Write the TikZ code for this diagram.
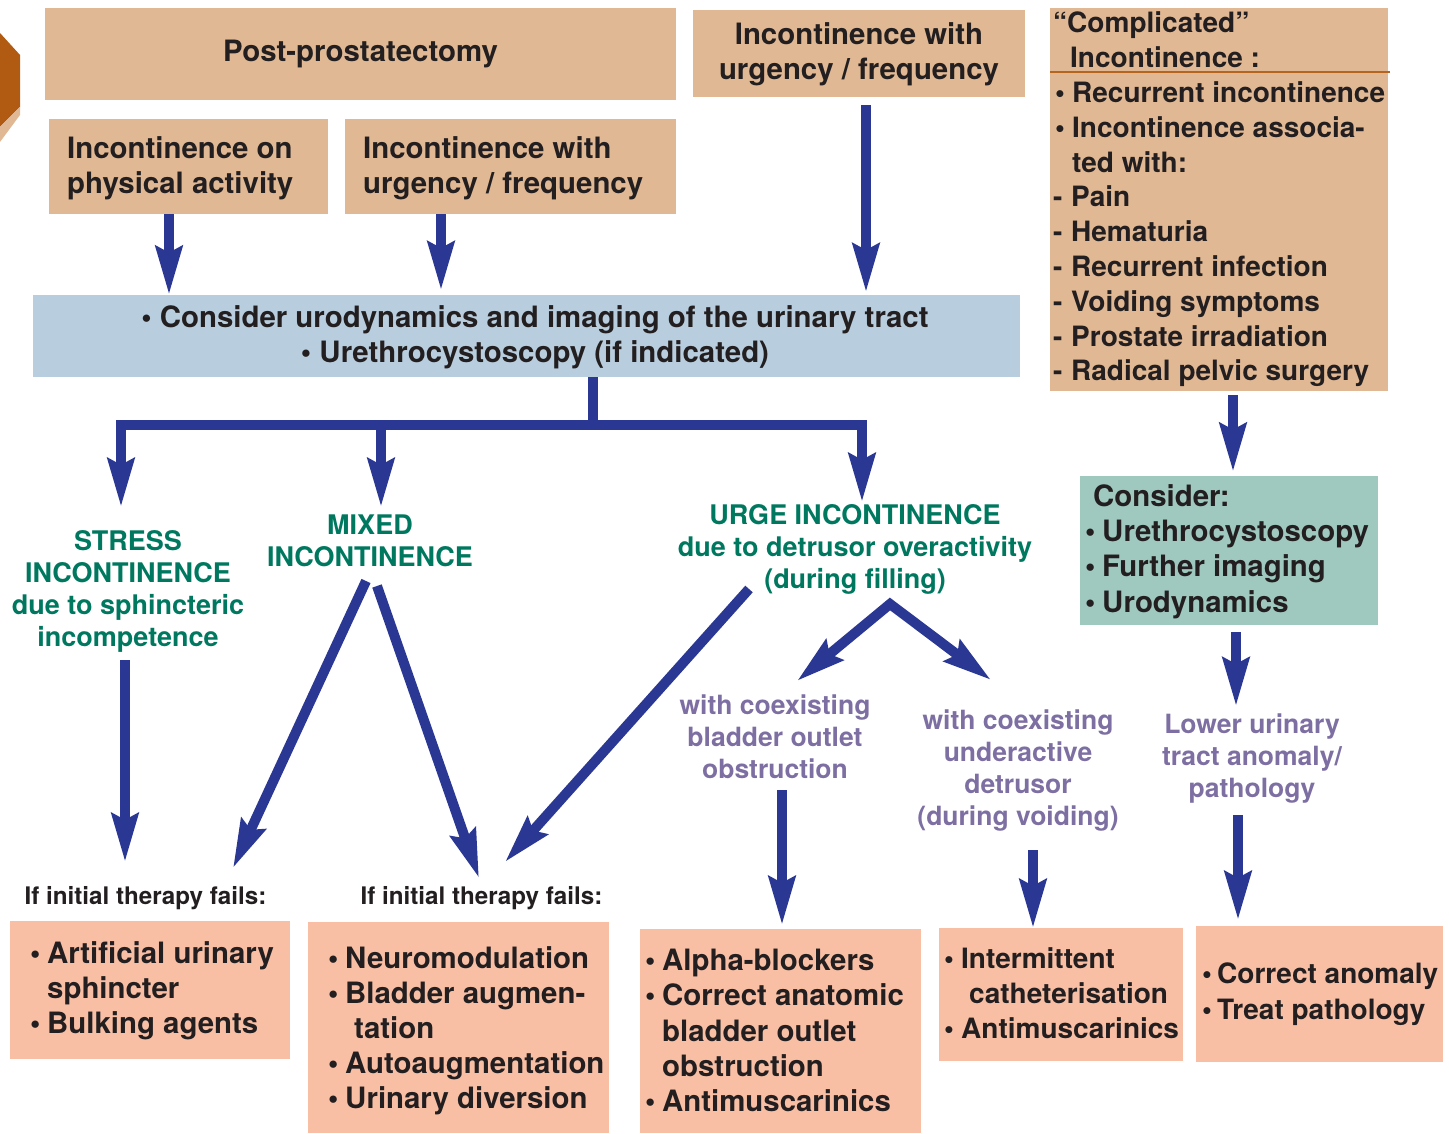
\documentclass[tikz,border=0pt]{standalone}
\usepackage{fontspec}
\setmainfont{TeX Gyre Heros}
\usetikzlibrary{arrows.meta}
\definecolor{cTan}{HTML}{E0B894}
\definecolor{cBlueBox}{HTML}{B8CDDD}
\definecolor{cTeal}{HTML}{9FC8BF}
\definecolor{cSalmon}{HTML}{F8BFA5}
\definecolor{cArrow}{HTML}{2A3894}
\definecolor{cGreen}{HTML}{00785F}
\definecolor{cPurple}{HTML}{7E6FA3}
\definecolor{cText}{HTML}{231F20}
\definecolor{cBrown}{HTML}{B05A12}
\definecolor{cRule}{HTML}{B5651D}
\newcommand\mb{\makebox[17pt][l]{•}}
\newcommand\md{\makebox[18pt][l]{-}}
\newcommand\myind[1]{\hspace*{#1pt}}
\tikzset{
  myhead/.tip={Stealth[length=48pt,width=26pt,inset=6pt]},
  boxbase/.style={inner sep=0pt, draw=none},
  tanbox/.style={boxbase, fill=cTan},
  bluebox/.style={boxbase, fill=cBlueBox},
  tealbox/.style={boxbase, fill=cTeal},
  salbox/.style={boxbase, fill=cSalmon},
  main/.style={font=\fontsize{29.4}{35}\selectfont\bfseries, text=cText, inner sep=0pt},
  mainl/.style={main, align=left, anchor=west},
  mainc/.style={main, align=center},
  smalll/.style={font=\fontsize{28}{35}\selectfont\bfseries, text=cText, inner sep=0pt, align=left, anchor=west},
  compl/.style={font=\fontsize{28}{34.8}\selectfont\bfseries, text=cText, inner sep=0pt, align=left, anchor=west},
  greenlbl/.style={font=\fontsize{27}{32}\selectfont\bfseries, text=cGreen, align=center, inner sep=0pt},
  purplbl/.style={font=\fontsize{26.5}{32}\selectfont\bfseries, text=cPurple, align=center, inner sep=0pt},
  fails/.style={font=\fontsize{24.2}{29}\selectfont\bfseries, text=cText, inner sep=0pt},
  shaft/.style={draw=cArrow, line width=10pt, line join=miter},
  arr/.style={shaft, -myhead},
  darr/.style={shaft, myhead-myhead},
}
\begin{document}
\begin{tikzpicture}[x=1pt,y=-1pt]
\useasboundingbox (0,0) rectangle (1449,1134);
% corner ornament
\fill[cBrown] (0,33) -- (20,55) -- (20,107) -- (0,127) -- cycle;
\fill[cTan] (0,127) -- (20,107) -- (20,115) -- (0,142) -- cycle;

% top boxes
\node[tanbox, minimum width=631pt, minimum height=92pt] (post) at (360.5,54) {};
\node[mainc] (post-t) at (360.5,54) {Post-prostatectomy};

\node[tanbox, minimum width=332pt, minimum height=87pt] (urgT) at (859,53.5) {};
\node[mainc] (urgT-t) at (859,54) {Incontinence with\\urgency / frequency};

\node[tanbox, minimum width=279pt, minimum height=95pt] (phys) at (188.5,166.5) {};
\node[mainl] (phys-t) at (67,168) {Incontinence on\\physical activity};

\node[tanbox, minimum width=331pt, minimum height=95pt] (urgL) at (510.5,166.5) {};
\node[mainl] (urgL-t) at (363,168) {Incontinence with\\urgency / frequency};

\node[tanbox, minimum width=338pt, minimum height=383pt] (comp) at (1219,199.5) {};
\node[compl] (comp-t) at (1053,199.5) {“Complicated”\\\myind{17}Incontinence :\\\myind{2}\mb Recurrent incontinence\\\myind{2}\mb Incontinence associa-\\\myind{19}ted with:\\\md Pain\\\md Hematuria\\\md Recurrent infection\\\md Voiding symptoms\\\md Prostate irradiation\\\md Radical pelvic surgery};
\draw[cRule, line width=2pt] (1050,72) -- (1390,72);

% blue box
\node[bluebox, minimum width=987pt, minimum height=82pt] (blue) at (526.5,336) {};
\node[mainc] (blue-t) at (535,337) {• Consider urodynamics and imaging of the urinary tract\\• Urethrocystoscopy (if indicated)};

% teal box
\node[tealbox, minimum width=298pt, minimum height=149pt] (teal) at (1229,550.5) {};
\node[mainl, font=\fontsize{29.4}{35.3}\selectfont\bfseries] (teal-t) at (1085,551.5) {\myind{8}Consider:\\\mb Urethrocystoscopy\\\mb Further imaging\\\mb Urodynamics};

% category labels
\node[greenlbl] (stress) at (128,591.5) {STRESS\\INCONTINENCE\\due to sphincteric\\incompetence};
\node[greenlbl] (mixed) at (370,540.5) {MIXED\\INCONTINENCE};
\node[greenlbl] (urge) at (855,549.5) {URGE INCONTINENCE\\due to detrusor overactivity\\(during filling)};
\node[purplbl] (bo) at (775,736.5) {with coexisting\\bladder outlet\\obstruction};
\node[purplbl] (ud) at (1018,771) {with coexisting\\underactive\\detrusor\\(during voiding)};
\node[purplbl] (lu) at (1252,759) {Lower urinary\\tract anomaly/\\pathology};
\node[fails] (f1) at (145.5,898) {If initial therapy fails:};
\node[fails] (f2) at (481.5,898) {If initial therapy fails:};

% bottom boxes
\node[salbox, minimum width=280pt, minimum height=138pt] (sa) at (150,990) {};
\node[mainl] (sa-t) at (30,991) {\mb Artificial urinary\\\myind{17}sphincter\\\mb Bulking agents};
\node[salbox, minimum width=301pt, minimum height=211pt] (sb) at (458.5,1027.5) {};
\node[mainl] (sb-t) at (328,1031) {\mb Neuromodulation\\\mb Bladder augmen-\\\myind{26}tation\\\mb Autoaugmentation\\\mb Urinary diversion};
\node[salbox, minimum width=281pt, minimum height=204pt] (sc) at (780.5,1031) {};
\node[mainl, font=\fontsize{29.4}{35.2}\selectfont\bfseries] (sc-t) at (645,1030.5) {\mb Alpha-blockers\\\mb Correct anatomic\\\myind{17}bladder outlet\\\myind{17}obstruction\\\mb Antimuscarinics};
\node[salbox, minimum width=244pt, minimum height=133pt] (sd) at (1061,994.5) {};
\node[smalll] (sd-t) at (944,993) {\mb Intermittent\\\myind{25}catheterisation\\\mb Antimuscarinics};
\node[salbox, minimum width=247pt, minimum height=136pt] (se) at (1319.5,994) {};
\node[smalll, font=\fontsize{28}{36}\selectfont\bfseries] (se-t) at (1202,994.5) {\makebox[15pt][l]{•}Correct anomaly\\\makebox[15pt][l]{•}Treat pathology};

% connectors
\draw[arr] ([xshift=-19.5pt]phys.south) -- ([xshift=-19.5pt]phys.south |- blue.north);
\draw[arr] ([xshift=-69.5pt]urgL.south) -- ++(0,76);
\draw[arr] ([xshift=7pt,yshift=-8pt]urgT.south) -- ++(0,187);

\coordinate (bar) at (593,425);
\coordinate (t1) at (121,507);
\coordinate (t2) at (381,507);
\coordinate (t3) at (862,502);
\draw[shaft] ([xshift=66.5pt]blue.south) -- (593,430);
\draw[arr] (bar) -| (t1);
\draw[arr] (bar) -| (t3);
\draw[arr] (t2 |- bar) -- (t2);

\coordinate (s0) at (125,660);
\coordinate (s1) at (125,862);
\draw[arr] (s0) -- (s1);
\coordinate (m0) at (366,581);
\coordinate (m1) at (233,868);
\coordinate (m2) at (377,586);
\coordinate (m3) at (479,878);
\draw[arr] (m0) -- (m1);
\draw[arr] (m2) -- (m3);
\coordinate (u0) at (749,589);
\coordinate (u1) at (505,862);
\draw[arr] (u0) -- (u1);
\coordinate (apex) at (890,604);
\coordinate (spL) at (797,681);
\coordinate (spR) at (991,680);
\draw[darr] (spL) -- (apex) -- (spR);

\coordinate (p1a) at (782,790);
\coordinate (p1b) at (782,925);
\draw[arr] (p1a) -- (p1b);
\coordinate (p2a) at (1033,850);
\coordinate (p2b) at (1033,928);
\draw[arr] (p2a) -- (p2b);
\coordinate (p3a) at (1238,815);
\coordinate (p3b) at (1238,920);
\draw[arr] (p3a) -- (p3b);
\draw[arr] ([xshift=14pt,yshift=-4pt]comp.south) -- ([xshift=14pt,yshift=4pt]comp.south |- teal.north);
\draw[arr] ([xshift=7pt,yshift=-7pt]teal.south) -- ++(0,74);
\end{tikzpicture}
\end{document}
